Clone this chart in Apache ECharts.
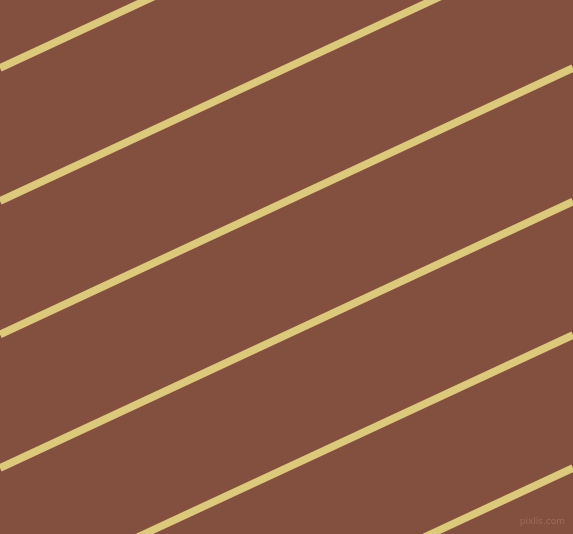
<!DOCTYPE html>
<html>
<head>
<meta charset="utf-8">
<script src="https://cdn.jsdelivr.net/npm/echarts@6/dist/echarts.min.js"></script>
<style>
html,body{margin:0;padding:0;background:#83503F;}
#c{width:573px;height:534px;}
</style>
</head>
<body>
<div id="c"></div>
<script>
// Stripe lines: y value at left edge (x=0) and right edge (x=573)
const stripeNames = ['s1','s2','s3','s4','s5','s6'];
const stripeLeftY = [68, 201, 334.5, 468, 601, 734.5];
const stripeRightY = [-198, -65, 68, 201.5, 335, 468];
const edgeX = [0, 573];
const watermark = 'pixlis.com';

const chart = echarts.init(document.getElementById('c'), null, {renderer:'canvas'});
const series = stripeNames.map((n, i) => ({
  name: n,
  type: 'line',
  data: [[edgeX[0], stripeLeftY[i]], [edgeX[1], stripeRightY[i]]],
  symbol: 'none',
  clip: true,
  silent: true,
  animation: false,
  lineStyle: {color: '#DCC97B', width: 7.5, cap: 'butt'}
}));
chart.setOption({
  backgroundColor: '#83503F',
  animation: false,
  grid: {left: 0, right: 0, top: 0, bottom: 0},
  xAxis: {type: 'value', min: 0, max: 573, show: false},
  yAxis: {type: 'value', min: 0, max: 534, inverse: true, show: false},
  title: {
    text: watermark, right: 3, bottom: 3,
    textStyle: {color: '#9E6C57', fontSize: 9, fontWeight: 'normal', fontFamily: 'DejaVu Sans'}
  },
  series: series
});
</script>
</body>
</html>
